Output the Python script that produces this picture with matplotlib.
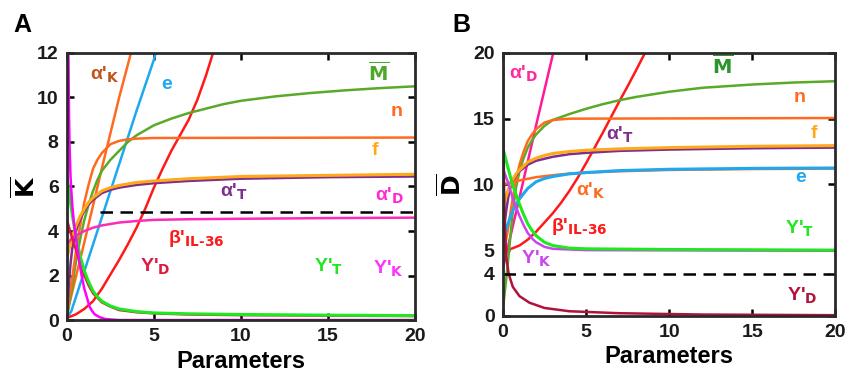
import numpy as np
import matplotlib
matplotlib.use('Agg')
import matplotlib.pyplot as plt

plt.rcParams['font.family'] = ['Liberation Sans', 'DejaVu Sans']
plt.rcParams['font.weight'] = 'bold'
plt.rcParams['mathtext.default'] = 'bf'

# ---------------- panel A data (K-bar vs parameters) ----------------
a_alphaK_x = [0, 1, 2, 3, 3.68]
a_alphaK_y = [0.3, 3.5, 6.8, 10.0, 12.0]
a_e_x = [0, 0.25, 0.5, 1, 1.5, 2, 3, 4, 5, 5.1]
a_e_y = [0.1, 0.4, 1.0, 2.2, 3.4, 4.6, 7.0, 9.4, 11.7, 12.0]
a_beta_x = [0, 0.5, 1, 1.5, 2, 2.5, 3, 3.5, 4, 4.5, 5, 5.5, 6, 6.5, 7, 7.5, 8, 8.4]
a_beta_y = [0.1, 0.25, 0.5, 0.85, 1.4, 2.05, 2.7, 3.4, 4.15, 5.0, 5.95, 6.8, 7.6, 8.3, 9.0, 9.9, 11.0, 12.0]
a_M_x = [0, 0.15, 0.3, 0.45, 0.6, 0.8, 1, 1.25, 1.5, 1.75, 2, 2.5, 3, 3.5, 4, 5, 6, 7, 8, 9, 10, 12, 14, 16, 18, 20]
a_M_y = [0.1, 0.8, 1.5, 2.3, 3.0, 3.8, 4.5, 5.2, 5.8, 6.3, 6.7, 7.2, 7.6, 8.0, 8.3, 8.75, 9.05, 9.3, 9.5,
         9.7, 9.85, 10.05, 10.2, 10.32, 10.42, 10.5]
a_n_x = [0, 0.25, 0.5, 0.75, 1, 1.25, 1.5, 1.75, 2, 2.5, 3, 3.5, 4, 5, 20]
a_n_y = [0.2, 1.6, 3.0, 4.2, 5.3, 6.1, 6.8, 7.2, 7.5, 7.9, 8.05, 8.12, 8.15, 8.18, 8.2]
a_f_x = [0, 0.25, 0.5, 0.75, 1, 1.25, 1.5, 2, 2.5, 3, 4, 5, 7, 10, 15, 20]
a_f_y = [2.8, 3.6, 4.2, 4.65, 5.0, 5.3, 5.5, 5.8, 5.95, 6.05, 6.18, 6.25, 6.35, 6.45, 6.5, 6.55]
a_alphaT_x = [0, 0.05, 0.1, 0.2, 0.3, 0.45, 0.6, 0.8, 1, 1.25, 1.5, 2, 2.5, 3, 4, 5, 7, 10, 15, 20]
a_alphaT_y = [0.1, 0.8, 1.5, 2.5, 3.2, 3.8, 4.2, 4.6, 4.9, 5.2, 5.4, 5.7, 5.85, 5.95, 6.07, 6.15, 6.25,
              6.35, 6.42, 6.45]
a_alphaD_x = [0, 0.25, 0.5, 1, 1.5, 2, 3, 4, 5, 7, 10, 15, 20]
a_alphaD_y = [3.4, 3.65, 3.8, 4.0, 4.15, 4.25, 4.38, 4.45, 4.5, 4.53, 4.55, 4.58, 4.6]
a_YD_x = [0, 0.25, 0.5, 0.75, 1, 1.25, 1.5, 2, 2.5, 3, 4, 5, 7, 10, 15, 20]
a_YD_y = [4.5, 3.8, 3.2, 2.55, 2.0, 1.55, 1.2, 0.8, 0.6, 0.45, 0.35, 0.3, 0.25, 0.22, 0.2, 0.18]
a_YT_x = [0, 0.25, 0.5, 0.75, 1, 1.25, 1.5, 1.75, 2, 2.5, 3, 4, 5, 7, 10, 15, 20]
a_YT_y = [6.4, 5.0, 3.8, 2.9, 2.2, 1.7, 1.3, 1.05, 0.85, 0.63, 0.5, 0.38, 0.32, 0.28, 0.25, 0.22, 0.2]
a_YK_x = [0.08, 0.1, 0.12, 0.15, 0.2, 0.25, 0.3, 0.38, 0.46, 0.6, 0.72, 0.84, 1.0, 1.15, 1.3, 1.45,
          1.6, 1.9, 2.2, 2.6, 3, 20]
a_YK_y = [12, 10.5, 9, 7.8, 6.5, 5.8, 5.2, 4.5, 4.0, 3.2, 2.6, 2.0, 1.4, 1.0, 0.6, 0.4, 0.25, 0.12,
          0.05, 0.02, 0.0, 0.0]
a_thresh = 4.85

# ---------------- panel B data (D-bar vs parameters) ----------------
b_alphaD_x = [0, 1, 2, 3.03]
b_alphaD_y = [3.6, 9.0, 14.5, 20.0]
b_beta_x = [0, 0.5, 1, 1.5, 2, 2.5, 3, 3.5, 4, 4.5, 5, 5.5, 6, 6.5, 7, 7.5, 8, 8.55]
b_beta_y = [5.0, 5.1, 5.35, 5.8, 6.4, 7.1, 7.8, 8.6, 9.5, 10.5, 11.6, 12.75, 13.9, 15.1, 16.3, 17.45,
            18.65, 20.0]
b_M_x = [0, 0.15, 0.3, 0.45, 0.6, 0.8, 1, 1.25, 1.5, 1.75, 2, 2.5, 3, 4, 5, 6, 7, 8, 10, 12, 15, 17.5, 20]
b_M_y = [0.5, 2.2, 4.0, 6.0, 8.0, 9.8, 11.0, 12.0, 12.8, 13.35, 13.8, 14.45, 14.9, 15.35, 15.75, 16.1,
         16.4, 16.65, 17.05, 17.35, 17.6, 17.75, 17.85]
b_n_x = [0, 0.15, 0.3, 0.45, 0.6, 0.8, 1, 1.25, 1.5, 1.75, 2, 2.5, 3, 4, 20]
b_n_y = [4.5, 5.5, 6.5, 7.8, 9.0, 10.4, 11.5, 12.5, 13.3, 13.8, 14.2, 14.7, 14.9, 15.0, 15.05]
b_f_x = [0, 0.15, 0.3, 0.45, 0.6, 0.8, 1, 1.25, 1.5, 2, 2.5, 3, 4, 5, 7, 10, 15, 20]
b_f_y = [8.3, 8.9, 9.5, 10.0, 10.4, 10.8, 11.1, 11.4, 11.7, 12.0, 12.2, 12.35, 12.5, 12.6, 12.7, 12.8,
         12.9, 12.95]
b_alphaT_x = [0, 0.05, 0.1, 0.2, 0.35, 0.5, 0.75, 1, 1.5, 2, 3, 4, 5, 7, 10, 15, 20]
b_alphaT_y = [5.0, 6.0, 6.9, 8.0, 9.2, 10.0, 10.6, 11.0, 11.5, 11.8, 12.1, 12.3, 12.4, 12.55, 12.65,
              12.75, 12.8]
b_alphaK_x = [0, 0.5, 1, 2, 3, 4, 5, 7, 10, 15, 20]
b_alphaK_y = [10.0, 10.15, 10.3, 10.55, 10.7, 10.82, 10.9, 11.0, 11.1, 11.17, 11.2]
b_e_x = [0, 0.15, 0.3, 0.45, 0.6, 0.8, 1, 1.25, 1.5, 2, 2.5, 3, 4, 5, 7, 10, 15, 20]
b_e_y = [5.8, 6.4, 7.0, 7.5, 8.0, 8.5, 8.9, 9.3, 9.7, 10.2, 10.45, 10.6, 10.8, 10.9, 11.05, 11.15,
         11.22, 11.25]
b_YT_x = [0, 0.3, 0.6, 1, 1.25, 1.5, 1.75, 2, 2.5, 3, 4, 5, 10, 20]
b_YT_y = [12.8, 11.3, 9.9, 8.5, 7.7, 7.0, 6.5, 6.1, 5.6, 5.35, 5.15, 5.1, 5.05, 5.0]
b_YK_x = [0, 0.3, 0.6, 1, 1.25, 1.5, 1.75, 2, 2.5, 3, 5, 20]
b_YK_y = [11.2, 10.2, 8.9, 7.6, 6.9, 6.3, 5.9, 5.6, 5.25, 5.1, 5.0, 4.95]
b_YD_x = [0.02, 0.05, 0.08, 0.12, 0.2, 0.35, 0.6, 1, 1.6, 2.5, 4, 7, 12, 20]
b_YD_y = [20, 12, 9, 7, 4.5, 3.2, 2.2, 1.5, 1.0, 0.6, 0.35, 0.2, 0.1, 0.05]
b_thresh = 3.2
b_yticks = [0, 3.2, 5, 10, 15, 20]
b_yticklabels = ['0', '4', '5', '10', '15', '20']

# colours
c_orange = '#FF6A1F'
c_blue = '#1EA8F0'
c_red = '#FF1A1A'
c_green = '#5AAA2A'
c_yellow = '#FFA81A'
c_purple = '#7E2F8E'
c_pink = '#FF2AB8'
c_lime = '#1EE81E'
c_magenta = '#FF00FF'
c_crimson = '#E01A40'


def style_axes(ax):
    for s in ax.spines.values():
        s.set_linewidth(2)
        s.set_color('#2a2a2a')
    ax.tick_params(direction='in', top=True, right=True, length=5, width=1.8,
                   labelsize=14, pad=6)
    ax.set_xlim(0, 20)
    ax.set_xticks([0, 5, 10, 15, 20])
    plt.setp(ax.get_xticklabels() + ax.get_yticklabels(), fontweight='bold', color='#1a1a1a')
    ax.set_xlabel('Parameters', fontsize=17, fontweight='bold', labelpad=3)


def lab(ax, x, y, main, sub, color, size=14):
    if sub:
        s = main + '$_{\\mathbf{' + sub + '}}$'
    else:
        s = main
    ax.text(x, y, s, color=color, fontsize=size, fontweight='bold', ha='left', va='center')


fig = plt.figure(figsize=(8.48, 3.81), dpi=100)
axA = fig.add_axes([0.079, 0.160, 0.410, 0.701])
axB = fig.add_axes([0.593, 0.171, 0.392, 0.690])

lw = 1.8
# panel A
axA.plot(a_alphaK_x, a_alphaK_y, color=c_orange, lw=lw)
axA.plot(a_e_x, a_e_y, color=c_blue, lw=lw)
axA.plot(a_beta_x, a_beta_y, color=c_red, lw=lw)
axA.plot(a_M_x, a_M_y, color=c_green, lw=lw)
axA.plot(a_n_x, a_n_y, color=c_orange, lw=lw)
axA.plot(a_alphaT_x, a_alphaT_y, color=c_purple, lw=lw)
axA.plot(a_f_x, a_f_y, color=c_yellow, lw=lw + 0.4)
axA.plot(a_alphaD_x, a_alphaD_y, color=c_pink, lw=lw)
axA.plot(a_YD_x, a_YD_y, color=c_crimson, lw=lw)
axA.plot(a_YT_x, a_YT_y, color=c_lime, lw=lw + 0.4)
axA.plot(a_YK_x, a_YK_y, color=c_magenta, lw=lw)
axA.plot([1.9, 20], [a_thresh, a_thresh], color='black', lw=1.8, ls=(0, (5, 3)))
axA.set_ylim(0, 12)
axA.set_yticks([0, 2, 4, 6, 8, 10, 12])
style_axes(axA)
axA.set_ylabel('$\\overline{\\mathbf{K}}$', fontsize=18, labelpad=-2)

lab(axA, 1.3, 11.0, "α'", 'K', '#C0541A')
lab(axA, 5.4, 10.6, 'e', None, c_blue)
lab(axA, 17.3, 11.1, '$\\overline{\\mathbf{M}}$', None, '#4DA82A')
lab(axA, 18.6, 9.35, 'n', None, c_orange)
lab(axA, 17.5, 7.6, 'f', None, c_yellow)
lab(axA, 8.8, 5.75, "α'", 'T', c_purple)
lab(axA, 17.7, 5.6, "α'", 'D', '#FF2AD4')
lab(axA, 5.8, 3.65, "β'", 'IL\u201036', c_red)
lab(axA, 4.2, 2.4, "Y'", 'D', c_crimson)
lab(axA, 14.2, 2.4, "Y'", 'T', c_lime)
lab(axA, 17.6, 2.3, "Y'", 'K', '#FF33FF')

# panel B
axB.plot(b_alphaD_x, b_alphaD_y, color='#FF1A9A', lw=lw)
axB.plot(b_beta_x, b_beta_y, color=c_red, lw=lw)
axB.plot(b_M_x, b_M_y, color=c_green, lw=lw)
axB.plot(b_n_x, b_n_y, color=c_orange, lw=lw)
axB.plot(b_alphaT_x, b_alphaT_y, color=c_purple, lw=lw)
axB.plot(b_f_x, b_f_y, color=c_yellow, lw=lw + 0.4)
axB.plot(b_alphaK_x, b_alphaK_y, color=c_orange, lw=lw)
axB.plot(b_e_x, b_e_y, color=c_blue, lw=lw + 0.4)
axB.plot(b_YK_x, b_YK_y, color='#CC44EE', lw=lw)
axB.plot(b_YT_x, b_YT_y, color=c_lime, lw=lw + 0.4)
axB.plot(b_YD_x, b_YD_y, color='#B0123A', lw=lw)
axB.plot([0, 19.6], [b_thresh, b_thresh], color='black', lw=1.8, ls=(0, (5, 3)))
axB.set_ylim(0, 20)
axB.set_yticks(b_yticks)
axB.set_yticklabels(b_yticklabels)
style_axes(axB)
axB.set_ylabel('$\\overline{\\mathbf{D}}$', fontsize=18, labelpad=5)

lab(axB, 0.35, 18.4, "α'", 'D', '#FF2AA0')
lab(axB, 12.6, 19.0, '$\\overline{\\mathbf{M}}$', None, '#2A962A')
lab(axB, 17.5, 16.6, 'n', None, c_orange)
lab(axB, 6.2, 13.8, "α'", 'T', c_purple)
lab(axB, 18.5, 13.9, 'f', None, c_yellow)
lab(axB, 17.6, 10.5, 'e', None, c_blue)
lab(axB, 4.4, 9.5, "α'", 'K', c_orange)
lab(axB, 2.9, 6.8, "β'", 'IL\u201036', c_red)
lab(axB, 17.0, 6.6, "Y'", 'T', c_lime)
lab(axB, 1.1, 4.3, "Y'", 'K', '#CC44EE')
lab(axB, 17.1, 1.5, "Y'", 'D', '#B0123A')

fig.text(0.016, 0.915, 'A', fontsize=18, fontweight='bold')
fig.text(0.533, 0.915, 'B', fontsize=18, fontweight='bold')

fig.savefig('out.png', dpi=100)
